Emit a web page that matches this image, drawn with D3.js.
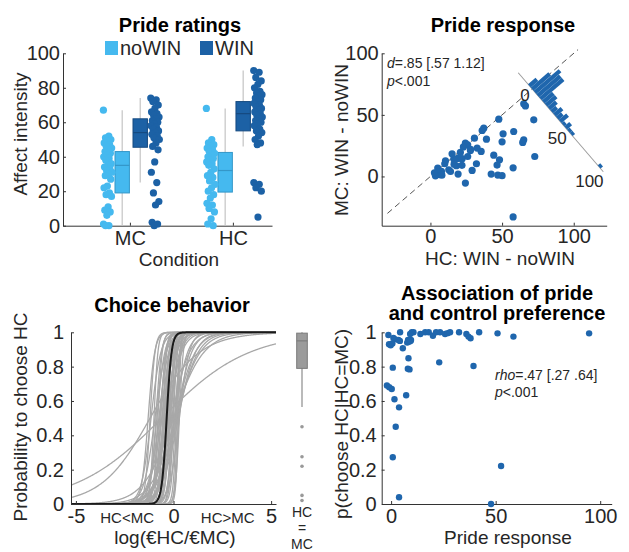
<!DOCTYPE html>
<html>
<head>
<meta charset="utf-8">
<script src="https://cdn.jsdelivr.net/npm/d3@7"></script>
<style>
  body { margin: 0; background: #fff; }
  text { font-family: "Liberation Sans", Arial, sans-serif; fill: #262626; }
  .axis path, .axis line { stroke: #333; }
</style>
</head>
<body>
<svg id="fig" width="629" height="552"></svg>
<script>
// ---- data ----
const conditions = ['MC', 'HC'];
const groups = ['noWIN', 'WIN'];

// Panel A: pride ratings per participant
const mcNoWin = [67, 52, 51, 50, 49, 48, 47, 46, 45, 44, 43, 42, 41, 40, 39, 38, 36, 35, 34, 33, 32, 31, 30, 29, 27, 23, 22, 19, 18, 17, 11, 9, 8, 6, 1, 0, 0];
const mcWin = [74, 73, 72, 70, 68, 66, 65, 64, 63, 62, 61, 60, 59, 58, 57, 56, 55, 54, 53, 52, 51, 50, 48, 46, 44, 37, 31, 25, 19, 14, 12, 2, 1, 0];
const hcNoWin = [68, 50, 48, 47, 46, 45, 44, 43, 42, 41, 40, 39, 38, 37, 36, 35, 33, 31, 29, 28, 26, 24, 22, 20, 18, 16, 13, 12, 10, 8, 4, 1, 0];
const hcWin = [90, 89, 86, 84, 82, 80, 78, 77, 76, 75, 74, 73, 72, 71, 70, 69, 68, 67, 66, 65, 64, 63, 62, 61, 60, 59, 58, 56, 55, 54, 52, 50, 48, 47, 25, 24, 22, 20, 5];
// box stats, order: MC-noWIN, MC-WIN, HC-noWIN, HC-WIN
const boxQ1 = [19, 45.5, 19.5, 55];
const boxMed = [35, 54, 32, 65];
const boxQ3 = [43, 62, 42.5, 72];
const boxLo = [0, 25, 0, 46];
const boxHi = [67, 74, 68, 90];

// Panel B: pride response HC vs MC (WIN - noWIN)
const prideDiff = [[65.1, 59], [66.3, 57.3], [72.1, 46], [47.7, 46.5], [37.2, 39.2], [36.1, 37.3], [50.7, 34.6], [58.1, 36.5],
  [50, 28.1], [65.1, 29.8], [64.4, 27.6], [39.1, 30.3], [30.7, 31.1], [24.4, 27.1], [26, 25.7], [27.9, 21.1], [32.6, 23],
  [35.4, 20.3], [20.9, 19.5], [19.1, 14.6], [16.3, 14.1], [22.1, 14.4], [26, 16.2], [10.5, 12.7], [10, 10.3], [5.1, 6.8],
  [7.7, 4.1], [4.2, 1.9], [6.5, 1.4], [12.8, 5.4], [18.1, 8.7], [19.3, 1.9], [24.4, -5.4], [29.1, 4.9], [32.1, 10.3],
  [44.2, 17.3], [48.2, 13.5], [46.5, 9.2], [42.4, 1.9], [47, 1.1], [50, 0.6], [57.7, 7], [72.8, 16.2], [57.7, -32.9],
  [15.1, 18.4], [3.5, 0.5], [5, 3.5], [8, 1], [14, 4], [22, 9], [28, 22], [23, 24], [16.5, 10], [2.8, 3]];
// rotated histogram of (HC - MC): bin start, bin end, count
const histStart = [-6, -2, 2, 6, 10, 14, 18, 22, 26, 30, 34, 38, 42, 46, 50, 54, 94];
const histEnd = [-2, 2, 6, 10, 14, 18, 22, 26, 30, 34, 38, 42, 46, 50, 54, 58, 98];
const histCount = [3, 7, 10, 9, 9, 4, 4, 3, 2, 3, 2, 3, 1, 2, 1, 1, 1];
const histTicks = [0, 50, 100];

// Panel C: logistic choice curves per participant (midpoint, slope)
const curveMid = [-1.3, -1.2, -1.15, -1.0, -0.95, -0.9, -0.85, -0.8, -0.75, -0.7, -0.7, -0.65, -0.6, -0.6, -0.55, -0.5, -0.5,
  -0.45, -0.4, -0.4, -0.35, -0.3, -0.3, -0.25, -0.2, -0.2, -0.15, -0.1, -0.05, 0, 0.05, 0.1, 0.15, 0.2, 0.25, 0.3,
  -0.6, -1.2, 0, 0.1, 0.2, -0.1, 0.15, 0.05, -0.2, 0.25, -0.3, 0.3, -0.5, 0.1];
const curveSlope = [6, 8, 4, 10, 3.5, 7, 5, 9, 4, 6, 3.2, 8, 5, 3, 10, 4, 7, 6, 12, 3.5, 8, 5, 10, 6, 9, 4, 7, 12, 8, 10, 6, 9,
  12, 14, 15, 10, 0.45, 0.8, 1.3, 1.6, 1.9, 2.2, 2.6, 3, 3.5, 2.3, 2.8, 4, 4.5, 2];
const meanMid = -0.35, meanSlope = 8;
const choiceTicks = [-5, -2.4, 0, 2.75, 5];
const choiceTickLabels = ['-5', 'HC<MC', '0', 'HC>MC', '5'];
// box of p(choose HC | HC = MC)
const eqQ1 = 0.79, eqMed = 0.95, eqQ3 = 0.995, eqLo = 0.565, eqHi = 1.0;
const eqOutliers = [0.45, 0.275, 0.22, 0.05, 0.02];

// Panel D: pride response vs p(choose HC|HC=MC)
const prideVsChoice = [[-1.3, 0.984], [4.3, 1.0], [9.9, 1.0], [10.7, 1.0], [9.1, 0.99], [1.1, 0.967], [1.8, 0.96], [3.5, 0.955],
  [4.2, 0.95], [-1, 0.93], [-0.2, 0.925], [0.6, 0.935], [8.1, 0.955], [9.5, 0.955], [7.7, 0.94], [8.6, 0.945], [9.3, 0.95],
  [5.6, 0.907], [8.3, 0.849], [8, 0.788], [8.8, 0.784], [0.8, 0.794], [-2, 0.69], [-0.9, 0.68], [0.3, 0.67], [1.6, 0.61],
  [3.8, 0.563], [7.2, 0.633], [2.2, 0.45], [0.8, 0.272], [3.8, 0.039], [16.3, 1.0], [18, 1.0], [21.5, 1.0], [23.4, 1.0],
  [25.8, 0.99], [27, 0.995], [28.2, 1.0], [32.5, 1.0], [36, 0.99], [37, 0.975], [38, 0.965], [42.1, 1.0], [23, 0.825],
  [39.4, 0.804], [50.9, 0.994], [58.5, 0.975], [94.7, 0.994], [52.6, 0.221], [47.8, 0.0], [14, 0.99], [20, 0.98]];

// ---- styling ----
const cNoWin = '#45b9ef', cNoWinDark = '#3497c8';
const cWin = '#1c61a5', cWinDark = '#154a80';
const cDot = '#1f66ad';
const tickFont = 20, labelFont = 19, titleFont = 20;

const svg = d3.select('#fig');

function styleAxis(g) {
  g.attr('class', 'axis');
  g.selectAll('text').style('font-size', tickFont + 'px').style('fill', '#262626');
  g.selectAll('line').attr('stroke', '#333');
  g.select('.domain').attr('stroke', '#333');
}
function title(x, y, txt) {
  svg.append('text').attr('x', x).attr('y', y).attr('text-anchor', 'middle')
    .style('font-size', titleFont + 'px').style('font-weight', 'bold').style('fill', '#000').text(txt);
}
function ylabel(x, y, txt) {
  svg.append('text').attr('transform', `translate(${x},${y}) rotate(-90)`).attr('text-anchor', 'middle')
    .style('font-size', labelFont + 'px').text(txt);
}
function xlabel(x, y, txt) {
  svg.append('text').attr('x', x).attr('y', y).attr('text-anchor', 'middle')
    .style('font-size', labelFont + 'px').text(txt);
}
// deterministic spread for strip dots
const spread = i => ((i * 0.618034) % 1) - 0.5;

// ================= Panel A =================
const xA = d3.scaleLinear().domain([0.35, 2.38]).range([63, 272]);
const yA = d3.scaleLinear().domain([0, 100]).range([225.7, 53.3]);

title(180, 32, 'Pride ratings');
[[groups[0], cNoWin, 105], [groups[1], cWin, 200]].forEach(([g, c, x]) => {
  svg.append('rect').attr('x', x).attr('y', 41).attr('width', 13).attr('height', 14).attr('fill', c);
  svg.append('text').attr('x', x + 15).attr('y', 55).style('font-size', tickFont + 'px').text(g);
});

svg.append('g').attr('transform', 'translate(63,0)')
  .call(d3.axisLeft(yA).tickValues([0, 20, 40, 60, 80, 100]).tickSizeInner(-3).tickSizeOuter(0).tickPadding(3))
  .call(styleAxis);
svg.append('g').attr('transform', `translate(0,${yA(0)})`)
  .call(d3.axisBottom(xA).tickValues([1, 2]).tickFormat(d => conditions[d - 1]).tickSizeInner(-3).tickSizeOuter(0).tickPadding(5))
  .call(styleAxis);
ylabel(27, 134, 'Affect intensity');
xlabel(179, 266, 'Condition');

const stripSets = [
  { vals: mcNoWin, cond: 1, off: -0.215, col: cNoWin },
  { vals: mcWin, cond: 1, off: 0.245, col: cWin },
  { vals: hcNoWin, cond: 2, off: -0.215, col: cNoWin },
  { vals: hcWin, cond: 2, off: 0.245, col: cWin }
];
const boxPos = [[1, -0.075, cNoWin, cNoWinDark], [1, 0.10, cWin, cWinDark], [2, -0.075, cNoWin, cNoWinDark], [2, 0.10, cWin, cWinDark]];
const boxHalf = 0.07;

boxPos.forEach(([cond, off, fill, edge], i) => {
  const cx = xA(cond + off);
  svg.append('line').attr('x1', cx).attr('x2', cx).attr('y1', yA(boxLo[i])).attr('y2', yA(boxHi[i]))
    .attr('stroke', '#c4c4c4').attr('stroke-width', 1.2);
  svg.append('rect').attr('x', xA(cond + off - boxHalf)).attr('width', xA(cond + off + boxHalf) - xA(cond + off - boxHalf))
    .attr('y', yA(boxQ3[i])).attr('height', yA(boxQ1[i]) - yA(boxQ3[i]))
    .attr('fill', fill).attr('stroke', edge).attr('stroke-width', 1);
  svg.append('line').attr('x1', xA(cond + off - boxHalf)).attr('x2', xA(cond + off + boxHalf))
    .attr('y1', yA(boxMed[i])).attr('y2', yA(boxMed[i])).attr('stroke', edge).attr('stroke-width', 1.2);
});

stripSets.forEach(s => {
  svg.append('g').selectAll('circle').data(s.vals).enter().append('circle')
    .attr('cx', (d, i) => xA(s.cond + s.off + spread(i) * 0.085))
    .attr('cy', d => yA(d))
    .attr('r', 3.6)
    .attr('fill', s.col);
});

// ================= Panel B =================
const xB = d3.scaleLinear().domain([-34, 123]).range([381.7, 606.7]);
const yB = d3.scaleLinear().domain([-40, 100]).range([225.7, 53.3]);

title(503, 32, 'Pride response');
svg.append('g').attr('transform', `translate(${xB(-34)},0)`)
  .call(d3.axisLeft(yB).tickValues([0, 50, 100]).tickSizeInner(-3).tickSizeOuter(0).tickPadding(3))
  .call(styleAxis);
svg.append('g').attr('transform', `translate(0,${yB(-40)})`)
  .call(d3.axisBottom(xB).tickValues([0, 50, 100]).tickSizeInner(-3).tickSizeOuter(0).tickPadding(3))
  .call(styleAxis);
ylabel(348, 140, 'MC: WIN - noWIN');
xlabel(500, 265, 'HC: WIN - noWIN');

svg.append('line').attr('x1', xB(-30)).attr('y1', yB(-30)).attr('x2', xB(103)).attr('y2', yB(103))
  .attr('stroke', '#555').attr('stroke-width', 1).attr('stroke-dasharray', '6,4');

svg.append('g').selectAll('circle').data(prideDiff).enter().append('circle')
  .attr('cx', d => xB(d[0])).attr('cy', d => yB(d[1])).attr('r', 3.6).attr('fill', cDot);

const stat1 = svg.append('text').attr('x', 387).attr('y', 68).style('font-size', '14px');
stat1.append('tspan').style('font-style', 'italic').text('d');
stat1.append('tspan').text('=.85 [.57 1.12]');
const stat2 = svg.append('text').attr('x', 387).attr('y', 86).style('font-size', '14px');
stat2.append('tspan').style('font-style', 'italic').text('p');
stat2.append('tspan').text('<.001');

// rotated histogram, perpendicular to the diagonal
const p0 = [xB(71), yB(71)];
const dx = xB(1) - xB(0), dy = yB(1) - yB(0);
const ang = Math.atan2(dx, -dy) * 180 / Math.PI; // perpendicular, pointing down-right
const along = d3.scaleLinear().domain([0, 100]).range([0, 107]);
const cnt = d3.scaleLinear().domain([0, 10]).range([0, 33]);
const hist = svg.append('g').attr('transform', `translate(${p0[0]},${p0[1]}) rotate(${ang})`);
hist.append('line').attr('x1', along(-20)).attr('x2', along(102)).attr('y1', 0).attr('y2', 0)
  .attr('stroke', '#9a9a9a').attr('stroke-width', 1);
hist.selectAll('rect').data(histCount).enter().append('rect')
  .attr('x', (d, i) => along(histStart[i])).attr('width', (d, i) => along(histEnd[i]) - along(histStart[i]))
  .attr('y', d => -cnt(d)).attr('height', d => cnt(d)).attr('fill', cDot);
histTicks.forEach(t => {
  const off = 6 + 3.5 * String(t).length;
  hist.append('text').attr('transform', `translate(${along(t)},${off}) rotate(${-ang})`)
    .attr('text-anchor', 'middle').attr('dy', '0.35em').style('font-size', '17px').text(t);
});

// ================= Panel C =================
const xC = d3.scaleLinear().domain([-5.25, 5.25]).range([71, 276]);
const yC = d3.scaleLinear().domain([0, 1]).range([504, 332.3]);

title(172, 312, 'Choice behavior');
svg.append('defs').append('clipPath').attr('id', 'clipC').append('rect')
  .attr('x', xC(-5.25)).attr('y', yC(1) - 2).attr('width', xC(5.25) - xC(-5.25)).attr('height', yC(0) - yC(1) + 2);

const xs = d3.range(-5.25, 5.2501, 0.02);
const logistic = (m, k) => xs.map(x => [x, 1 / (1 + Math.exp(-k * (x - m)))]);
const lineC = d3.line().x(d => xC(d[0])).y(d => yC(d[1]));
const curves = svg.append('g').attr('clip-path', 'url(#clipC)');
curveMid.forEach((m, i) => {
  curves.append('path').attr('d', lineC(logistic(m, curveSlope[i])))
    .attr('fill', 'none').attr('stroke', '#a8a8a8').attr('stroke-width', 1.3);
});
curves.append('path').attr('d', lineC(logistic(meanMid, meanSlope)))
  .attr('fill', 'none').attr('stroke', '#1a1a1a').attr('stroke-width', 2);

svg.append('g').attr('transform', `translate(${xC(-5.25)},0)`)
  .call(d3.axisLeft(yC).tickValues([0, 0.2, 0.4, 0.6, 0.8, 1]).tickFormat(d => (d === 0 || d === 1) ? d : d.toFixed(1))
    .tickSizeInner(-3).tickSizeOuter(0).tickPadding(7))
  .call(styleAxis);
const axC = svg.append('g').attr('transform', `translate(0,${yC(0)})`)
  .call(d3.axisBottom(xC).tickValues(choiceTicks).tickFormat((d, i) => choiceTickLabels[i]).tickSizeInner(-3).tickSizeOuter(0).tickPadding(5))
  .call(styleAxis);
axC.selectAll('.tick').filter((d, i) => i === 1 || i === 3).select('text').style('font-size', '15px').attr('dy', '0.95em');
axC.selectAll('.tick').filter((d, i) => i === 1 || i === 3).select('line').remove();
ylabel(27, 417, 'Probability to choose HC');
xlabel(175, 544, 'log(€HC/€MC)');

// side box: p(choose HC | HC = MC)
const xEq = d3.scaleLinear().domain([0, 1]).range([296.7, 307.3]);
svg.append('line').attr('x1', xEq(0.5)).attr('x2', xEq(0.5)).attr('y1', yC(eqLo)).attr('y2', yC(eqHi))
  .attr('stroke', '#8c8c8c').attr('stroke-width', 1.2);
svg.append('rect').attr('x', xEq(0)).attr('width', xEq(1) - xEq(0)).attr('y', yC(eqQ3)).attr('height', yC(eqQ1) - yC(eqQ3))
  .attr('fill', '#9b9b9b').attr('stroke', '#7a7a7a');
svg.append('line').attr('x1', xEq(0)).attr('x2', xEq(1)).attr('y1', yC(eqMed)).attr('y2', yC(eqMed))
  .attr('stroke', '#777').attr('stroke-width', 1);
svg.append('g').selectAll('circle').data(eqOutliers).enter().append('circle')
  .attr('cx', xEq(0.5)).attr('cy', d => yC(d)).attr('r', 1.8).attr('fill', '#999');
['HC', '=', 'MC'].forEach((t, i) => {
  svg.append('text').attr('x', xEq(0.5)).attr('y', 517 + i * 16).attr('text-anchor', 'middle')
    .style('font-size', '14px').text(t);
});

// ================= Panel D =================
const xD = d3.scaleLinear().domain([-4.5, 105.5]).range([381.7, 611.7]);
const yD = d3.scaleLinear().domain([0, 1]).range([504, 332.3]);

title(497, 300, 'Association of pride');
title(497, 320, 'and control preference');
svg.append('g').attr('transform', `translate(${xD(-4.5)},0)`)
  .call(d3.axisLeft(yD).tickValues([0, 0.2, 0.4, 0.6, 0.8, 1]).tickFormat(d => (d === 0 || d === 1) ? d : d.toFixed(1))
    .tickSizeInner(-3).tickSizeOuter(0).tickPadding(5))
  .call(styleAxis);
svg.append('g').attr('transform', `translate(0,${yD(0)})`)
  .call(d3.axisBottom(xD).tickValues([0, 50, 100]).tickSizeInner(-3).tickSizeOuter(0).tickPadding(5))
  .call(styleAxis);
ylabel(348, 424, 'p(choose HC|HC=MC)');
xlabel(508, 544, 'Pride response');

svg.append('g').selectAll('circle').data(prideVsChoice).enter().append('circle')
  .attr('cx', d => xD(d[0])).attr('cy', d => yD(d[1])).attr('r', 3.2).attr('fill', cDot);

const stat3 = svg.append('text').attr('x', 495).attr('y', 380).style('font-size', '14px');
stat3.append('tspan').style('font-style', 'italic').text('rho');
stat3.append('tspan').text('=.47 [.27 .64]');
const stat4 = svg.append('text').attr('x', 495).attr('y', 397).style('font-size', '14px');
stat4.append('tspan').style('font-style', 'italic').text('p');
stat4.append('tspan').text('<.001');
</script>
</body>
</html>
